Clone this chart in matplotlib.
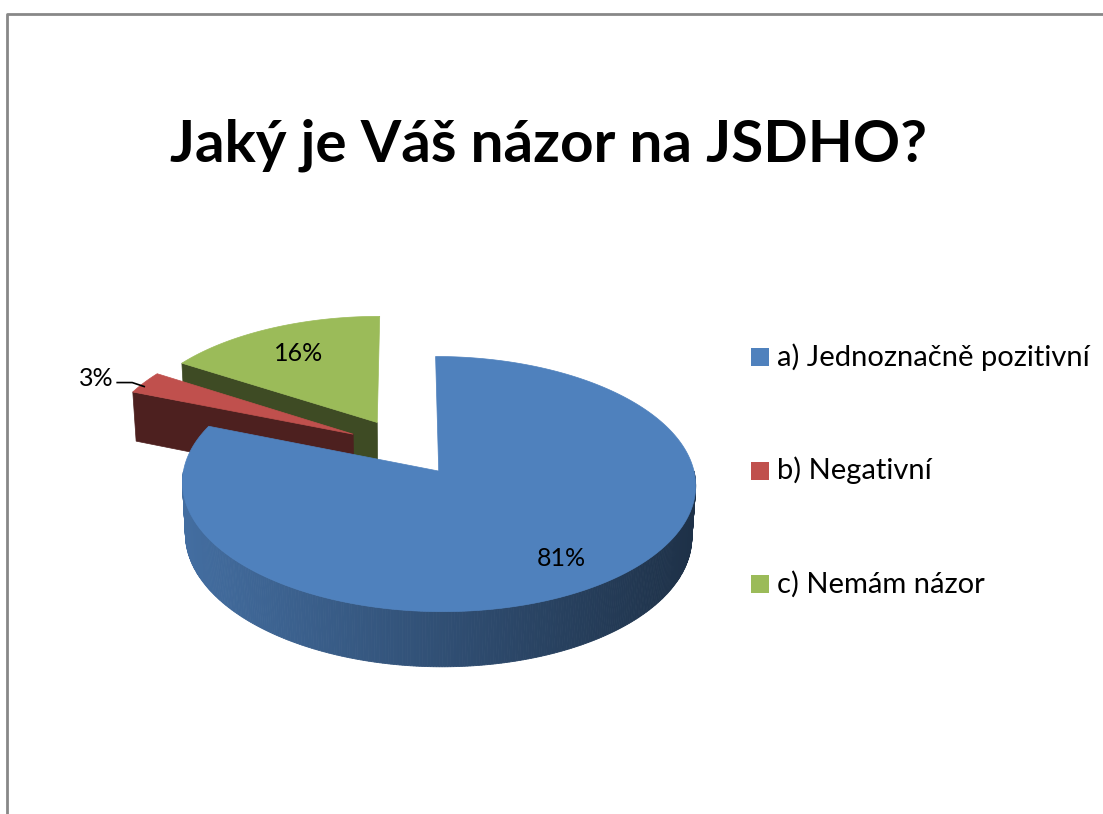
import numpy as np
import matplotlib
matplotlib.use("Agg")
import matplotlib.pyplot as plt
from matplotlib.colors import to_rgb
from matplotlib.patches import Polygon, Rectangle

plt.rcParams["font.family"] = ["Lato", "DejaVu Sans"]

TITLE = "Jaký je Váš názor na JSDHO?"
labels = ["a) Jednoznačně pozitivní", "b) Negativní", "c) Nemám názor"]
values = [81, 3, 16]
colors = ["#4F81BD", "#C0504D", "#9BBB59"]

# pohled na 3D koláč (perspektiva jako v Excelu)
ORIGIN = (405, 447)
FOCAL = 2190
DIST = 8.75
SPHI = 0.485
CPHI = np.sqrt(1 - SPHI ** 2)
DEPTH = 0.235
EXPLODE = 0.235


def proj(X, Y, Z):
    den = DIST + Y * CPHI - Z * SPHI
    return ORIGIN[0] + FOCAL * X / den, ORIGIN[1] - FOCAL * (Y * SPHI + Z * CPHI) / den


def shade(c, k):
    r, g, b = to_rgb(c)
    return (r * k, g * k, b * k)


fig = plt.figure(figsize=(11.03, 8.14), dpi=100)
ax = fig.add_axes([0, 0, 1, 1])
ax.set_xlim(0, 1103); ax.set_ylim(814, 0); ax.axis("off")

# ramecek grafu
ax.plot([7, 7, 1110], [830, 14, 14], color="#888888", lw=2, solid_capstyle="butt")

ax.text(548, 161, TITLE, ha="center", va="baseline", fontsize=42, fontweight="bold")

# --- slices ---
total = sum(values)
start = 90.0
slices = []
for v, c, lab in zip(values, colors, labels):
    sweep = 360.0 * v / total
    t0, t1 = start, start - sweep
    slices.append((v, c, t0, t1, (t0 + t1) / 2))
    start = t1

for v, c, t0, t1, mid in sorted(slices, key=lambda s: -np.sin(np.radians(s[4]))):
    cx, cy = EXPLODE * np.cos(np.radians(mid)), EXPLODE * np.sin(np.radians(mid))
    # radialni steny
    for te, normal in ((t0, t0 + 90), (t1, t1 - 90)):
        if np.sin(np.radians(normal)) < -0.01:
            ex, ey = cx + np.cos(np.radians(te)), cy + np.sin(np.radians(te))
            pts = [proj(cx, cy, 0), proj(ex, ey, 0), proj(ex, ey, -DEPTH), proj(cx, cy, -DEPTH)]
            ax.add_patch(Polygon(pts, closed=True, fc=shade(c, 0.4), ec=shade(c, 0.4), lw=0.5))
    # vnejsi plast s prechodem
    th = np.radians(np.linspace(t1, t0, 500))
    xl, _ = proj(cx - 1, cy, 0)
    xr, _ = proj(cx + 1, cy, 0)
    for a, b in zip(th[:-1], th[1:]):
        if np.sin((a + b) / 2) >= 0:
            continue
        p1 = proj(cx + np.cos(a), cy + np.sin(a), 0)
        p2 = proj(cx + np.cos(b), cy + np.sin(b), 0)
        p3 = proj(cx + np.cos(b), cy + np.sin(b), -DEPTH)
        p4 = proj(cx + np.cos(a), cy + np.sin(a), -DEPTH)
        f = (p1[0] - xl) / (xr - xl)
        col = shade(c, 0.85 - 0.47 * f)
        ax.add_patch(Polygon([p1, p2, p3, p4], closed=True, fc=col, ec=col, lw=0.6))
    # horni plocha
    top = [proj(cx, cy, 0)] + [proj(cx + np.cos(a), cy + np.sin(a), 0) for a in th]
    ax.add_patch(Polygon(top, closed=True, fc=c, ec=c, lw=0.5))

    # popisky
    m = np.radians(mid)
    if v >= 5:
        r = 0.72 if np.sin(m) > 0 else 0.78
        lx, ly = proj(cx + r * np.cos(m), cy + r * np.sin(m), 0)
        ax.text(lx, ly, f"{v}%", ha="center", va="center", fontsize=18)
    else:
        axp, ayp = proj(cx + np.cos(m), cy + np.sin(m), 0)
        ax.plot([axp, axp - 12, axp - 27], [ayp + 4, ayp, ayp], color="black", lw=1.2)
        ax.text(axp - 31, ayp - 4, f"{v}%", ha="right", va="center", fontsize=18)

# legenda
for i, (lab, c) in enumerate(zip(labels, colors)):
    y = 357 + i * 113.5
    ax.add_patch(Rectangle((751, y - 9), 18, 18, fc=c, ec="none"))
    ax.text(777, y, lab, ha="left", va="center", fontsize=21)

fig.savefig("out.png", dpi=100)
